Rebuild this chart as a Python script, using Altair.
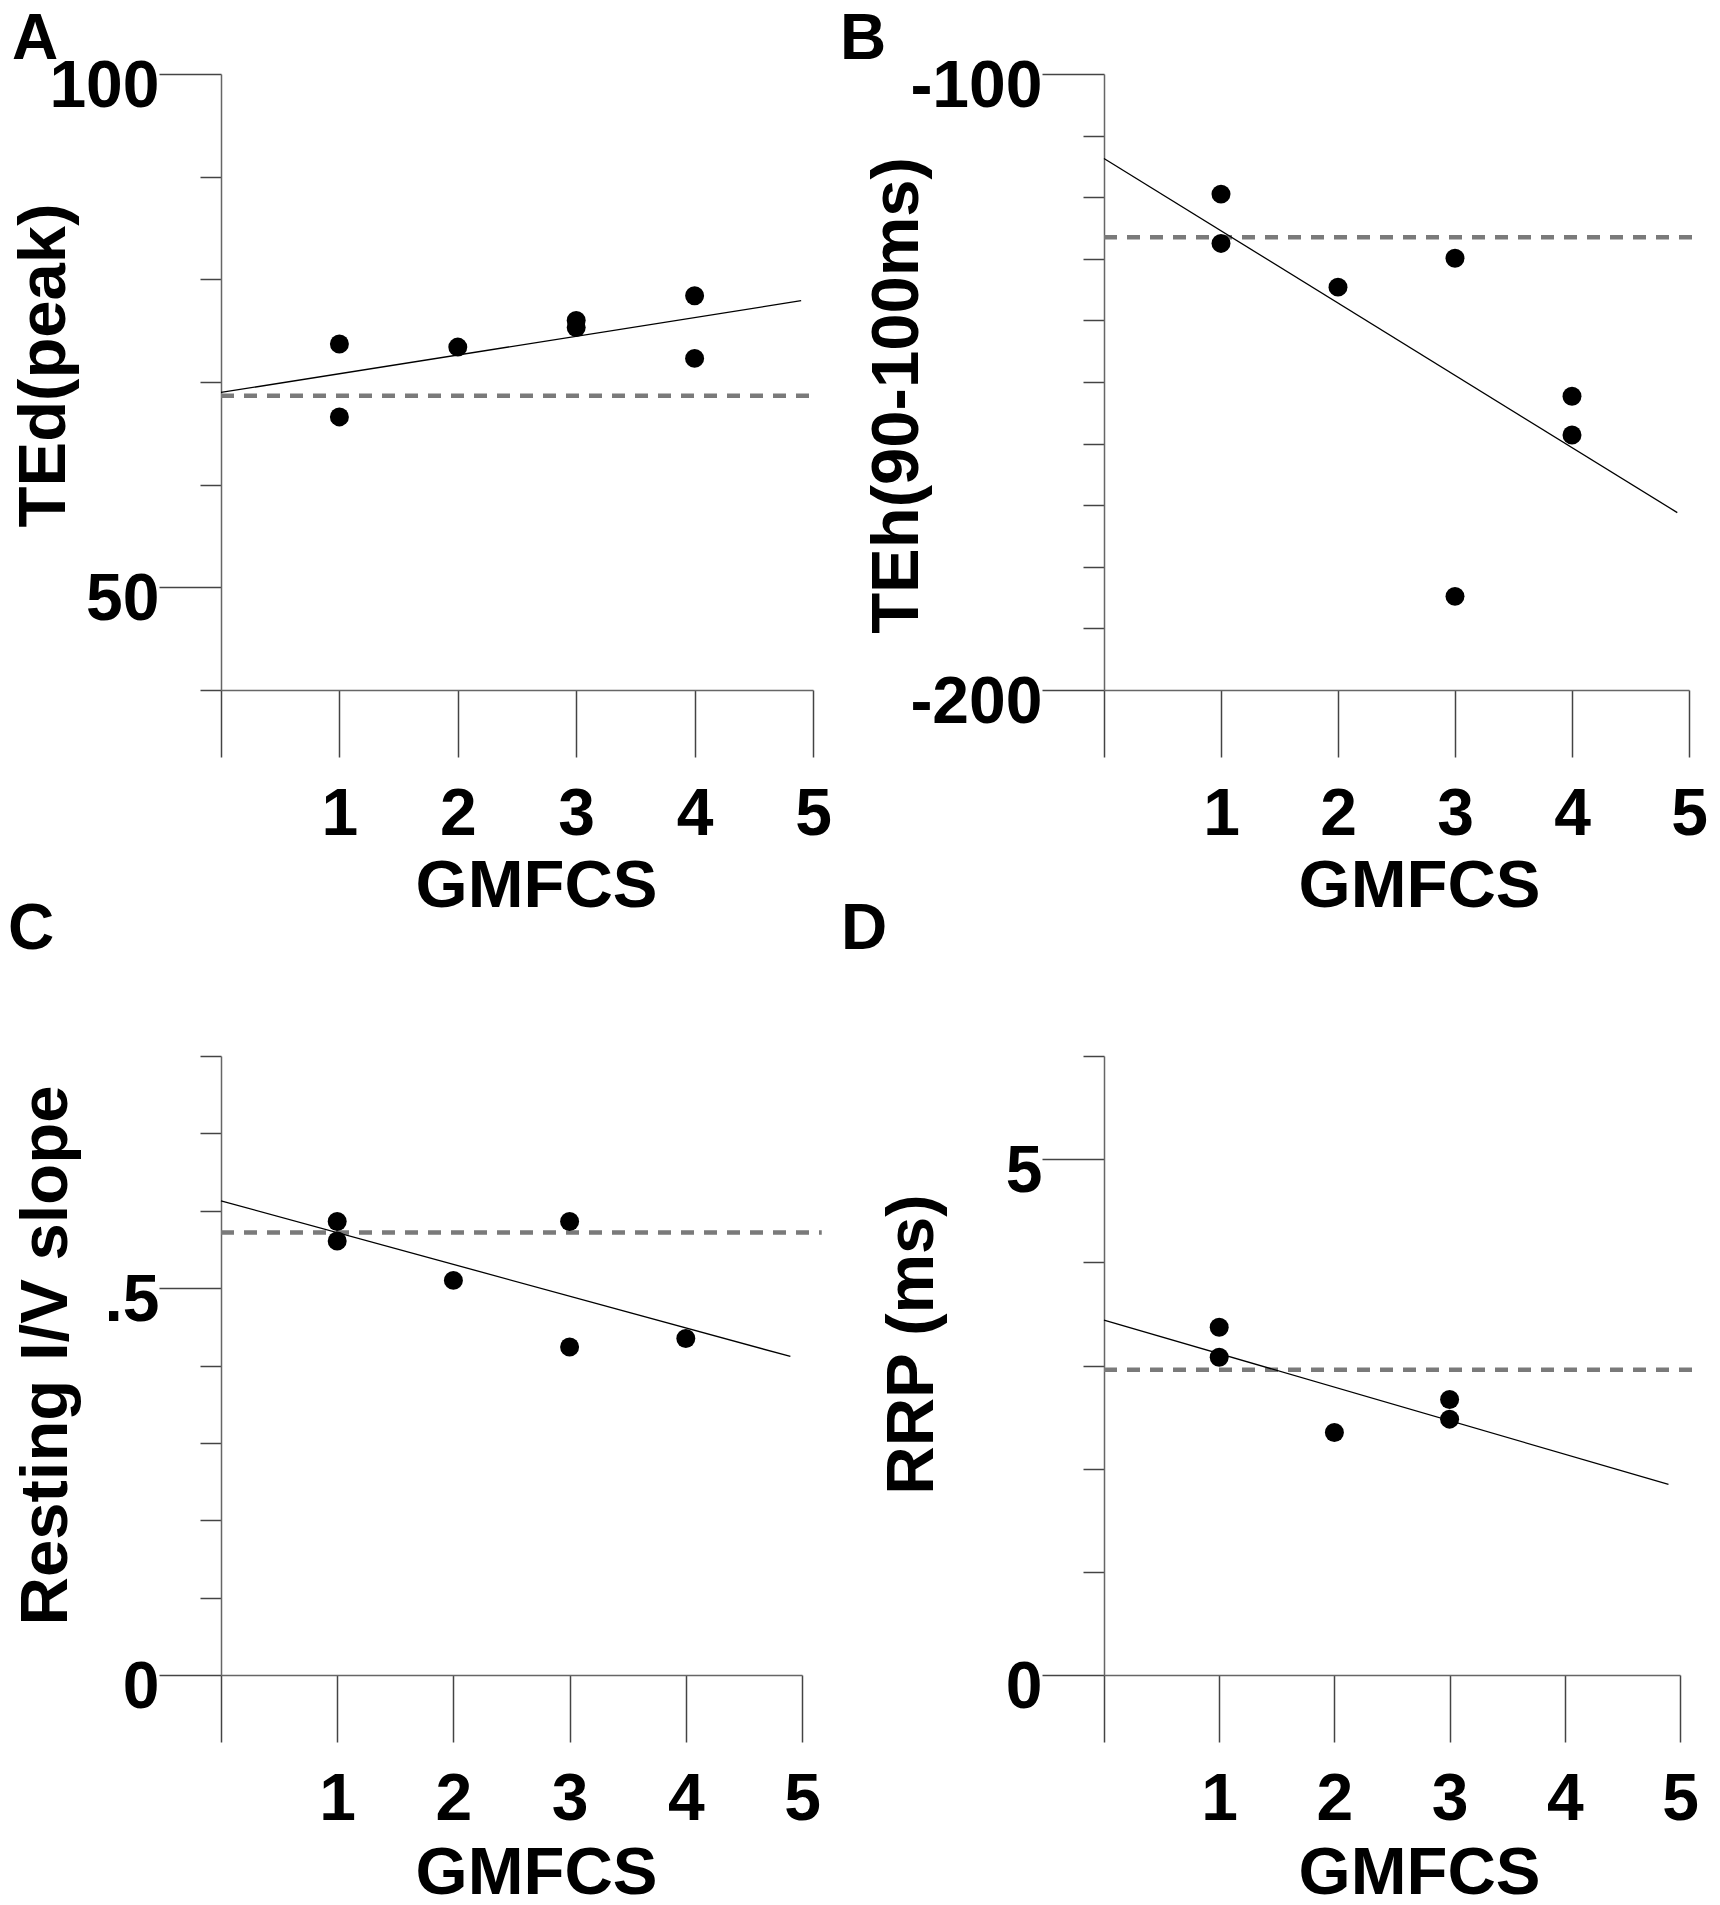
import altair as alt
import pandas as pd

FONT = "Liberation Sans"

# ---------------- data ----------------
gmfcs_ticks = [0, 1, 2, 3, 4, 5]

# Panel A : TEd(peak)
a_x = [1, 1, 2, 3, 3, 4, 4]
a_y = [73.7, 66.6, 73.4, 76.0, 75.3, 78.4, 72.3]
a_ref = 68.65
a_ref_end = 5.04
a_yticks = [40, 50, 60, 70, 80, 90, 100]
a_ylabels = {50: "50", 100: "100"}

# Panel B : TEh(90-100ms)
b_x = [1, 1, 2, 3, 3, 4, 4]
b_y = [-119.5, -127.5, -134.6, -129.9, -184.8, -152.3, -158.6]
b_ref = -126.5
b_ref_end = 5.10
b_yticks = [-200, -190, -180, -170, -160, -150, -140, -130, -120, -110, -100]
b_ylabels = {-200: "-200", -100: "-100"}

# Panel C : Resting I/V slope
c_x = [1, 1, 2, 3, 3, 4]
c_y = [0.586, 0.561, 0.510, 0.586, 0.424, 0.435]
c_ref = 0.572
c_ref_end = 5.17
c_yticks = [0, 0.1, 0.2, 0.3, 0.4, 0.5, 0.6, 0.7, 0.8]
c_ylabels = {0: "0", 0.5: ".5"}

# Panel D : RRP (ms)
d_x = [1, 1, 2, 3, 3]
d_y = [3.37, 3.08, 2.35, 2.67, 2.48]
d_ref = 2.96
d_ref_end = 5.18
d_yticks = [0, 1, 2, 3, 4, 5, 6]
d_ylabels = {0: "0", 5: "5"}

REG_EXTENT = [0, 4.9]


def panel(xs, ys, ref, ref_end, yticks, ylabels, ytitle, letter,
          w, h, ytitle_x, ytitle_y, xtitle_y, letter_dx, letter_dy):
    df = pd.DataFrame({"g": xs, "v": ys})
    xscale = alt.Scale(domain=[0, 5], nice=False, zero=False)
    yscale = alt.Scale(domain=[min(yticks), max(yticks)], nice=False, zero=False)

    test = " || ".join(f"datum.value == {k}" for k in ylabels)
    lab = "''"
    for k, t in ylabels.items():
        lab = f"datum.value == {k} ? '{t}' : ({lab})"

    xaxis = alt.Axis(
        values=gmfcs_ticks, grid=False, tickSize=67, tickWidth=1.5, tickColor="#444",
        domainColor="#666", domainWidth=1.5,
        labelExpr="datum.value == 0 ? '' : datum.label", labelFlush=False,
        labelOverlap=False, labelPadding=77, labelBaseline="alphabetic",
        labelFont=FONT, labelFontSize=66, labelFontWeight="bold", labelColor="black",
        title="GMFCS", titleX=315, titleY=xtitle_y, titleAlign="center",
        titleBaseline="alphabetic", titleFont=FONT, titleFontSize=67,
        titleFontWeight="bold", titleColor="black",
    )
    yaxis = alt.Axis(
        values=yticks, grid=False,
        tickSize={"condition": {"test": test, "value": 62}, "value": 21},
        tickWidth=1.5, tickColor="#444", domainColor="#666", domainWidth=1.5,
        labelExpr=lab, labelFlush=False, labelOverlap=False, labelPadding=0,
        labelOffset=32, labelBaseline="alphabetic", labelAlign="right",
        labelFont=FONT, labelFontSize=66, labelFontWeight="bold", labelColor="black",
        title=ytitle, titleX=ytitle_x, titleY=ytitle_y, titleAngle=270,
        titleAlign="center", titleBaseline="alphabetic", titleFont=FONT,
        titleFontSize=67, titleFontWeight="bold", titleColor="black",
    )

    base = alt.Chart(df).encode(
        x=alt.X("g:Q", scale=xscale, axis=xaxis),
        y=alt.Y("v:Q", scale=yscale, axis=yaxis),
    )
    refdf = pd.DataFrame({"g": [0], "g2": [ref_end], "v": [ref]})
    rule = alt.Chart(refdf).mark_rule(
        color="#7a7a7a", strokeWidth=4.5, strokeDash=[13, 10]
    ).encode(
        x=alt.X("g:Q", scale=xscale, axis=xaxis),
        x2="g2:Q",
        y=alt.Y("v:Q", scale=yscale, axis=yaxis),
    )
    reg = base.transform_regression("g", "v", extent=REG_EXTENT).mark_line(
        color="black", strokeWidth=1.3
    )
    pts = base.mark_circle(size=360, color="black", opacity=1)

    return alt.layer(rule, reg, pts).properties(
        width=w, height=h,
        title=alt.TitleParams(
            text=letter, anchor="start", frame="group", orient="top",
            dx=letter_dx, dy=letter_dy, offset=0, baseline="alphabetic",
            font=FONT, fontSize=64, fontWeight="bold", color="black",
        ),
    )


pa = panel(a_x, a_y, a_ref, a_ref_end, a_yticks, a_ylabels, "TEd(peak)", "A",
           592, 616, -157, 291, 216, -209, 70)
pb = panel(b_x, b_y, b_ref, b_ref_end, b_yticks, b_ylabels, "TEh(90-100ms)", "B",
           585, 616, -187, 321, 216, -264, 70)
pc = panel(c_x, c_y, c_ref, c_ref_end, c_yticks, c_ylabels, "Resting I/V slope", "C",
           581, 619, -155, 299, 218, -213, -22)
pd_ = panel(d_x, d_y, d_ref, d_ref_end, d_yticks, d_ylabels, "RRP (ms)", "D",
            576, 619, -172, 288, 218, -263, -22)

chart = alt.concat(
    pa, pb, pc, pd_, columns=2, spacing={"row": 363, "column": 291},
    bounds="flush", align="all",
).properties(padding=0, background="white").configure_view(stroke=None)

chart.save("out.html", embed_options={"renderer": "svg", "actions": False})
